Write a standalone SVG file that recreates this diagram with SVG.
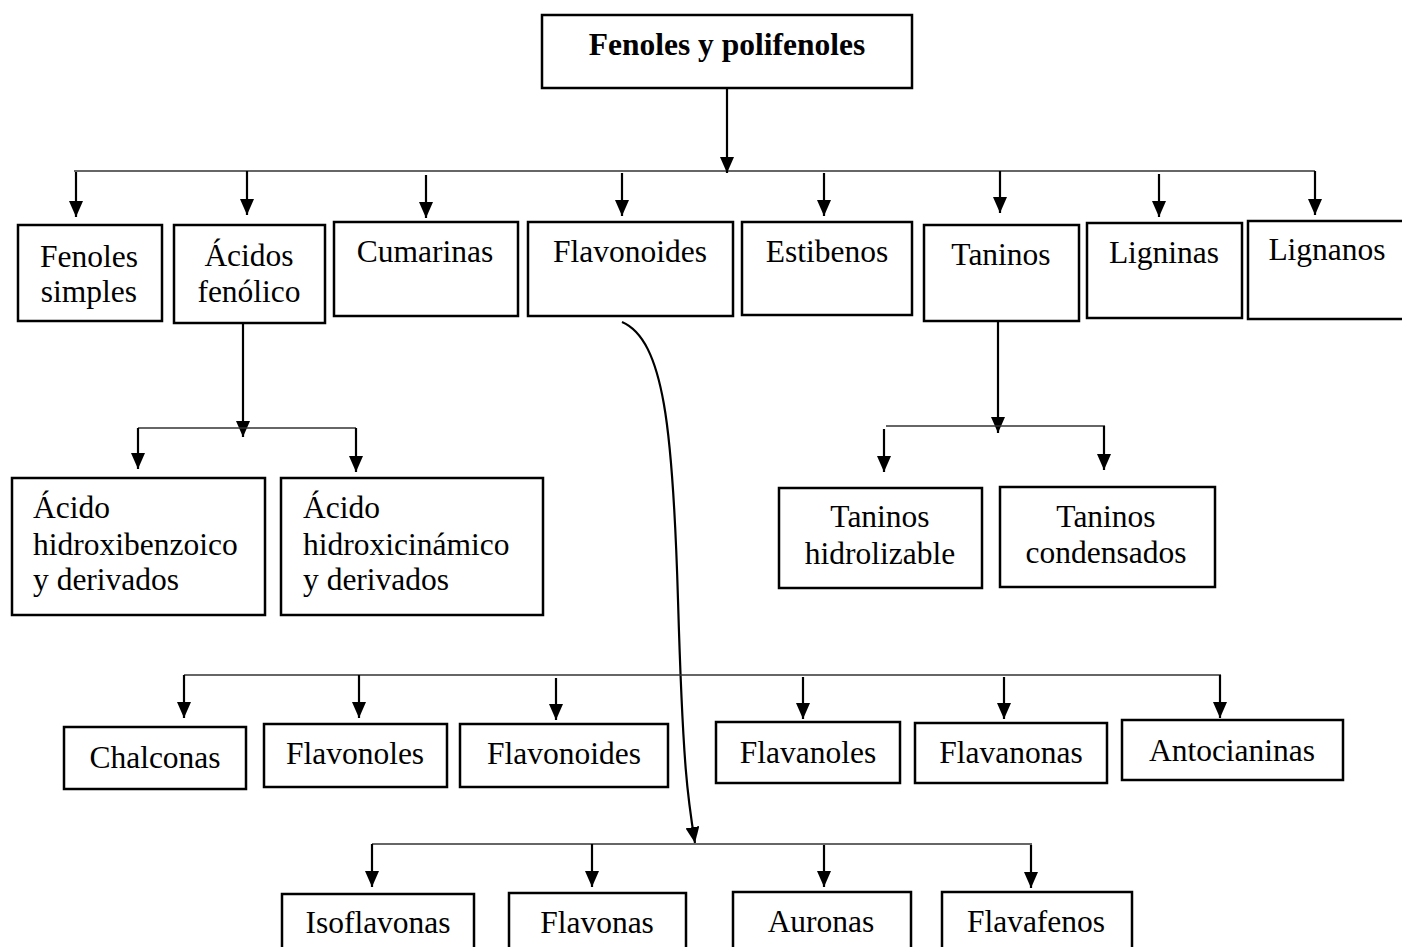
<svg xmlns="http://www.w3.org/2000/svg" width="1402" height="947" viewBox="0 0 1402 947">
<style>
.box{fill:#fff;stroke:#000;stroke-width:2.5}
.t{font-family:"Liberation Serif","Times New Roman",serif;font-size:31.5px;fill:#000}
.c{text-anchor:middle}
.b{font-weight:bold}
.bar{fill:none;stroke:#333;stroke-width:1.6}
.ar{fill:none;stroke:#000;stroke-width:2.2;marker-end:url(#ah)}
</style>
<defs>
<marker id="ah" viewBox="0 0 16 14" refX="16" refY="7" markerWidth="16" markerHeight="14" markerUnits="userSpaceOnUse" orient="auto">
<path d="M0,0 L16,7 L0,14 z" fill="#000"/>
</marker>
</defs>
<rect width="1402" height="947" fill="#fff"/>
<g id="connectors">
<line class="bar" x1="74" y1="171" x2="1315" y2="171"/>
<line class="ar" x1="727" y1="88" x2="727" y2="173"/>
<line class="ar" x1="76" y1="172" x2="76" y2="217"/>
<line class="ar" x1="247" y1="171" x2="247" y2="215"/>
<line class="ar" x1="426" y1="175" x2="426" y2="218"/>
<line class="ar" x1="622" y1="173" x2="622" y2="216"/>
<line class="ar" x1="824" y1="173" x2="824" y2="216"/>
<line class="ar" x1="1000" y1="171" x2="1000" y2="213"/>
<line class="ar" x1="1159" y1="174" x2="1159" y2="217"/>
<line class="ar" x1="1315" y1="171" x2="1315" y2="215"/>
<line class="ar" x1="243" y1="323" x2="243" y2="437"/>
<line class="bar" x1="138" y1="428" x2="356" y2="428"/>
<line class="ar" x1="138" y1="428" x2="138" y2="469"/>
<line class="ar" x1="356" y1="428" x2="356" y2="472"/>
<line class="ar" x1="998" y1="321" x2="998" y2="433"/>
<line class="bar" x1="886" y1="426" x2="1105" y2="426"/>
<line class="ar" x1="884" y1="429" x2="884" y2="472"/>
<line class="ar" x1="1104" y1="426" x2="1104" y2="470"/>
<path class="ar" d="M622,322 C664,340 673,430 678,600 S688,800 695,843"/>
<line class="bar" x1="184" y1="675" x2="1221" y2="675"/>
<line class="ar" x1="184" y1="675" x2="184" y2="718"/>
<line class="ar" x1="359" y1="675" x2="359" y2="718"/>
<line class="ar" x1="556" y1="678" x2="556" y2="720"/>
<line class="ar" x1="803" y1="677" x2="803" y2="719"/>
<line class="ar" x1="1004" y1="677" x2="1004" y2="719"/>
<line class="ar" x1="1220" y1="675" x2="1220" y2="718"/>
<line class="bar" x1="372" y1="844" x2="1032" y2="844"/>
<line class="ar" x1="372" y1="844" x2="372" y2="887"/>
<line class="ar" x1="592" y1="844" x2="592" y2="887"/>
<line class="ar" x1="824" y1="845" x2="824" y2="887"/>
<line class="ar" x1="1031" y1="845" x2="1031" y2="888"/>
</g>
<g id="root"><rect class="box" x="542" y="15" width="370" height="73"/><text class="t c b" x="727" y="55">Fenoles y polifenoles</text></g>
<g id="fenoles-simples"><rect class="box" x="18" y="225" width="144" height="96"/><text class="t c" x="89" y="267">Fenoles</text><text class="t c" x="89" y="302">simples</text></g>
<g id="acidos-fenolico"><rect class="box" x="174" y="225" width="151" height="98"/><text class="t c" x="249" y="266">Ácidos</text><text class="t c" x="249" y="302">fenólico</text></g>
<g id="cumarinas"><rect class="box" x="334" y="222" width="184" height="94"/><text class="t c" x="425" y="262">Cumarinas</text></g>
<g id="flavonoides"><rect class="box" x="528" y="222" width="205" height="94"/><text class="t c" x="630" y="262">Flavonoides</text></g>
<g id="estibenos"><rect class="box" x="742" y="222" width="170" height="93"/><text class="t c" x="827" y="262">Estibenos</text></g>
<g id="taninos"><rect class="box" x="924" y="225" width="155" height="96"/><text class="t c" x="1001" y="265">Taninos</text></g>
<g id="ligninas"><rect class="box" x="1087" y="223" width="155" height="95"/><text class="t c" x="1164" y="263">Ligninas</text></g>
<g id="lignanos"><rect class="box" x="1248" y="221" width="170" height="98"/><text class="t c" x="1327" y="260">Lignanos</text></g>
<g id="acido-hidroxibenzoico"><rect class="box" x="12" y="478" width="253" height="137"/><text class="t" x="33" y="518">Ácido</text><text class="t" x="33" y="555">hidroxibenzoico</text><text class="t" x="33" y="590">y derivados</text></g>
<g id="acido-hidroxicinamico"><rect class="box" x="281" y="478" width="262" height="137"/><text class="t" x="303" y="518">Ácido</text><text class="t" x="303" y="555">hidroxicinámico</text><text class="t" x="303" y="590">y derivados</text></g>
<g id="taninos-hidrolizable"><rect class="box" x="779" y="488" width="203" height="100"/><text class="t c" x="880" y="527">Taninos</text><text class="t c" x="880" y="564">hidrolizable</text></g>
<g id="taninos-condensados"><rect class="box" x="1000" y="487" width="215" height="100"/><text class="t c" x="1106" y="527">Taninos</text><text class="t c" x="1106" y="563">condensados</text></g>
<g id="chalconas"><rect class="box" x="64" y="727" width="182" height="62"/><text class="t c" x="155" y="768">Chalconas</text></g>
<g id="flavonoles"><rect class="box" x="264" y="724" width="183" height="63"/><text class="t c" x="355" y="764">Flavonoles</text></g>
<g id="flavonoides-2"><rect class="box" x="460" y="724" width="208" height="63"/><text class="t c" x="564" y="764">Flavonoides</text></g>
<g id="flavanoles"><rect class="box" x="716" y="722" width="184" height="61"/><text class="t c" x="808" y="763">Flavanoles</text></g>
<g id="flavanonas"><rect class="box" x="915" y="723" width="192" height="60"/><text class="t c" x="1011" y="763">Flavanonas</text></g>
<g id="antocianinas"><rect class="box" x="1122" y="720" width="221" height="60"/><text class="t c" x="1232" y="761">Antocianinas</text></g>
<g id="isoflavonas"><rect class="box" x="282" y="894" width="192" height="70"/><text class="t c" x="378" y="933">Isoflavonas</text></g>
<g id="flavonas"><rect class="box" x="509" y="893" width="177" height="70"/><text class="t c" x="597" y="933">Flavonas</text></g>
<g id="auronas"><rect class="box" x="733" y="892" width="178" height="70"/><text class="t c" x="821" y="932">Auronas</text></g>
<g id="flavafenos"><rect class="box" x="942" y="892" width="190" height="70"/><text class="t c" x="1036" y="932">Flavafenos</text></g>
</svg>
